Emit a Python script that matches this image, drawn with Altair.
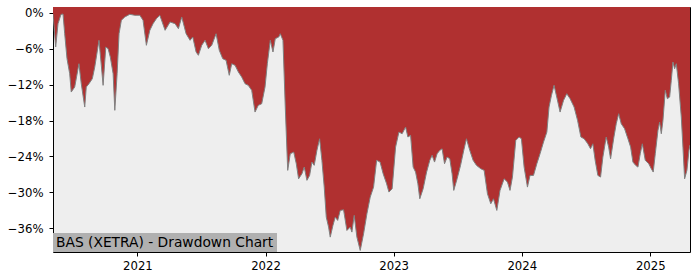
import math
import pandas as pd
import altair as alt

# decimal-year positions and drawdown (%)
years_dec = [
    2020.343, 2020.364, 2020.382, 2020.405, 2020.421, 2020.434, 2020.452, 2020.473, 2020.485, 2020.512,
    2020.545, 2020.563, 2020.590, 2020.602, 2020.623, 2020.649, 2020.668, 2020.701, 2020.719, 2020.733,
    2020.754, 2020.772, 2020.789, 2020.811, 2020.824, 2020.842, 2020.857, 2020.875, 2020.902, 2020.941,
    2020.980, 2021.019, 2021.044, 2021.070, 2021.097, 2021.122, 2021.148, 2021.175, 2021.216, 2021.255,
    2021.294, 2021.320, 2021.346, 2021.380, 2021.411, 2021.432, 2021.458, 2021.476, 2021.502, 2021.528,
    2021.554, 2021.580, 2021.614, 2021.639, 2021.666, 2021.692, 2021.717, 2021.736, 2021.762, 2021.788,
    2021.814, 2021.840, 2021.865, 2021.892, 2021.918, 2021.943, 2021.970, 2021.996, 2022.014, 2022.037,
    2022.058, 2022.076, 2022.103, 2022.115, 2022.136, 2022.154, 2022.173, 2022.193, 2022.220, 2022.240,
    2022.258, 2022.284, 2022.302, 2022.323, 2022.344, 2022.362, 2022.380, 2022.401, 2022.422, 2022.440,
    2022.458, 2022.474, 2022.492, 2022.505, 2022.526, 2022.544, 2022.563, 2022.583, 2022.609, 2022.635,
    2022.661, 2022.674, 2022.692, 2022.713, 2022.739, 2022.765, 2022.791, 2022.817, 2022.843, 2022.867,
    2022.894, 2022.918, 2022.945, 2022.963, 2022.988, 2023.015, 2023.041, 2023.066, 2023.093, 2023.111,
    2023.132, 2023.152, 2023.171, 2023.189, 2023.204, 2023.230, 2023.257, 2023.282, 2023.300, 2023.319,
    2023.339, 2023.360, 2023.378, 2023.397, 2023.417, 2023.438, 2023.456, 2023.469, 2023.495, 2023.522,
    2023.547, 2023.568, 2023.594, 2023.620, 2023.646, 2023.680, 2023.706, 2023.732, 2023.758, 2023.779,
    2023.805, 2023.830, 2023.862, 2023.888, 2023.908, 2023.927, 2023.953, 2023.979, 2023.997, 2024.018,
    2024.044, 2024.064, 2024.091, 2024.117, 2024.142, 2024.169, 2024.195, 2024.212, 2024.231, 2024.251,
    2024.272, 2024.298, 2024.325, 2024.350, 2024.376, 2024.407, 2024.434, 2024.460, 2024.485, 2024.514,
    2024.535, 2024.553, 2024.571, 2024.592, 2024.613, 2024.631, 2024.657, 2024.676, 2024.691, 2024.717,
    2024.735, 2024.754, 2024.774, 2024.800, 2024.826, 2024.847, 2024.865, 2024.886, 2024.904, 2024.922,
    2024.938, 2024.961, 2024.988, 2025.008, 2025.023, 2025.039, 2025.060, 2025.073, 2025.086, 2025.099,
    2025.117, 2025.133, 2025.151, 2025.164, 2025.177, 2025.190, 2025.203, 2025.221, 2025.242, 2025.255,
    2025.268, 2025.286, 2025.302, 2025.310,
]
drawdown = [
    -0.17, -5.69, -1.79, -0.25, -0.17, -3.47, -7.65, -10.16, -13.23, -12.39,
    -8.49, -11.84, -15.74, -12.39, -11.84, -11.00, -9.04, -4.57, -8.76, -12.11,
    -5.69, -5.98, -7.37, -10.16, -16.29, -10.16, -3.47, -1.22, -0.67, -0.22,
    -0.39, -0.39, -1.22, -5.41, -2.90, -1.79, -0.95, -0.39, -2.90, -1.51,
    -1.79, -2.63, -0.67, -3.47, -4.57, -4.02, -6.53, -7.08, -5.41, -4.57,
    -5.98, -5.41, -3.47, -6.25, -7.65, -7.92, -10.43, -8.49, -8.76, -9.88,
    -10.72, -11.84, -12.11, -12.94, -16.58, -15.46, -15.19, -12.39, -8.49, -4.57,
    -6.53, -4.30, -4.02, -3.47, -4.57, -15.74, -26.34, -23.56, -23.28, -25.23,
    -27.75, -26.91, -25.79, -28.01, -27.18, -24.95, -25.50, -22.99, -21.05, -24.66,
    -29.14, -34.16, -35.83, -37.51, -35.55, -34.16, -34.71, -33.04, -32.94, -36.39,
    -35.83, -36.67, -33.87, -37.51, -39.74, -36.96, -33.61, -30.81, -29.14, -24.66,
    -24.95, -26.91, -28.58, -29.97, -29.42, -22.44, -19.93, -20.21, -19.09, -20.76,
    -20.48, -25.79, -26.62, -28.58, -31.09, -29.42, -26.62, -24.66, -23.83, -24.95,
    -23.56, -22.99, -22.72, -25.23, -24.11, -24.40, -26.91, -29.69, -27.75, -25.50,
    -22.99, -21.05, -22.99, -24.66, -25.50, -26.07, -26.34, -30.26, -31.93, -31.09,
    -33.04, -29.69, -27.75, -28.30, -29.69, -27.46, -21.32, -20.76, -21.05, -25.79,
    -29.14, -27.18, -27.18, -25.23, -23.56, -21.60, -19.93, -15.74, -13.78, -12.11,
    -14.07, -16.58, -14.62, -13.51, -14.35, -15.74, -17.97, -20.76, -21.05, -21.89,
    -22.72, -21.89, -24.66, -27.18, -27.46, -24.11, -20.76, -22.44, -24.40, -20.76,
    -18.54, -16.86, -18.54, -19.37, -21.05, -22.44, -24.95, -25.50, -25.79, -23.56,
    -21.89, -24.66, -25.23, -26.07, -26.62, -23.56, -19.64, -18.25, -20.21, -17.97,
    -12.94, -14.35, -14.07, -11.27, -8.20, -9.33, -8.49, -11.84, -17.41, -22.44,
    -27.75, -26.34, -22.99, -22.10,
]
y_ticks = [0, -6, -12, -18, -24, -30, -36]
x_tick_years = [2021, 2022, 2023, 2024, 2025]
title_text = "BAS (XETRA) - Drawdown Chart"
y_top = 1.0
y_bottom = -40.0


def to_date(y):
    yr = int(math.floor(y))
    start = pd.Timestamp(yr, 1, 1)
    end = pd.Timestamp(yr + 1, 1, 1)
    return start + (end - start) * (y - yr)


dates = [to_date(v) for v in years_dec]
df = pd.DataFrame({
    "date": [d.strftime("%Y-%m-%dT%H:%M:%S") for d in dates],
    "dd": drawdown,
})

x_scale = alt.Scale(domain=[df["date"].iloc[0], df["date"].iloc[-1]], nice=False)
y_scale = alt.Scale(domain=[y_bottom, y_top], nice=False, zero=False)

x_enc = alt.X(
    "date:T",
    scale=x_scale,
    axis=alt.Axis(
        values=[alt.DateTime(year=y, month=1, date=1) for y in x_tick_years],
        format="%Y",
        title=None,
        grid=False,
        domain=False,
        tickColor="black",
        tickSize=4,
        tickWidth=1,
        labelColor="black",
        labelFont="DejaVu Sans",
        labelFontSize=11.7,
        labelPadding=4,
    ),
)
y_enc = alt.Y(
    "dd:Q",
    scale=y_scale,
    axis=alt.Axis(
        values=y_ticks,
        labelExpr="format(datum.value, 'd') + '%'",
        title=None,
        grid=False,
        domain=False,
        tickColor="black",
        tickSize=4,
        tickWidth=1,
        labelColor="black",
        labelFont="DejaVu Sans",
        labelFontSize=11.7,
        labelPadding=6,
    ),
)

base = alt.Chart(df)

area = base.mark_area(color="#b03030", opacity=1, clip=True).encode(
    x=x_enc,
    y=y_enc,
    y2=alt.datum(y_top),
)
edge = base.mark_line(color="#808080", strokeWidth=1, clip=True).encode(
    x="date:T",
    y="dd:Q",
)

label_df = pd.DataFrame({"t": [title_text]})
box = alt.Chart(label_df).mark_rect(color="#b0b0b0").encode(
    x=alt.value(0), x2=alt.value(224), y=alt.value(226), y2=alt.value(245)
)
label = alt.Chart(label_df).mark_text(
    align="left", baseline="middle", font="DejaVu Sans", fontSize=13.8, color="black"
).encode(x=alt.value(3), y=alt.value(236), text="t:N")

chart = (
    alt.layer(area, edge, box, label)
    .properties(
        width=637,
        height=245,
        autosize=alt.AutoSizeParams(type="none"),
        padding={"left": 53, "top": 7, "right": 10, "bottom": 28},
        background="white",
    )
    .configure_view(fill="#eeeeee", stroke="black", strokeWidth=1)
)

chart.save("out.html", embed_options={"renderer": "svg", "actions": False})
